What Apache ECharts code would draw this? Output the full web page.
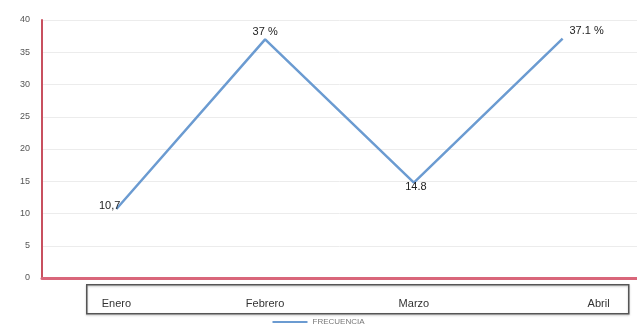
<!DOCTYPE html>
<html>
<head>
<meta charset="utf-8">
<script src="https://cdn.jsdelivr.net/npm/echarts@6/dist/echarts.min.js"></script>
<style>
  html, body { margin: 0; padding: 0; background: #ffffff; }
  #chart { width: 637px; height: 332px; }
</style>
</head>
<body>
<div id="chart"></div>
<script>
// Monthly frequency data
const months = ['Enero', 'Febrero', 'Marzo', 'Abril'];
const frecuencia = [10.7, 37, 14.8, 37.1];
const pointLabels = ['10,7', '37 %', '14.8', '37.1 %'];
const yTicks = [0, 5, 10, 15, 20, 25, 30, 35, 40];

const chart = echarts.init(document.getElementById('chart'), null, { renderer: 'canvas' });

const labelPlacement = [
  { position: 'left', distance: 0, offset: [4, -3] },
  { position: 'top', distance: 2, offset: [0, 0] },
  { position: 'inside', offset: [2, 4] },
  { position: 'top', distance: 2, offset: [24, 0] }
];

chart.setOption({
  animation: false,
  backgroundColor: '#ffffff',
  grid: { left: 42, right: 0, top: 20, bottom: 54 },
  legend: {
    bottom: 1,
    left: 'center',
    icon: 'rect',
    itemWidth: 35,
    itemHeight: 2,
    itemGap: 4,
    textStyle: { fontSize: 8, color: '#777', fontFamily: 'Liberation Sans' },
    data: ['FRECUENCIA']
  },
  graphic: [{
    type: 'rect',
    left: 86,
    top: 284,
    shape: { width: 542, height: 29 },
    style: { fill: 'rgba(0,0,0,0)', stroke: '#555', lineWidth: 1.5,
             shadowColor: 'rgba(0,0,0,0.25)', shadowBlur: 2, shadowOffsetY: 1 },
    z: 0
  }],
  xAxis: {
    type: 'category',
    data: months,
    boundaryGap: true,
    axisLine: { show: true, lineStyle: { color: '#d9667a', width: 3 } },
    axisTick: { show: false },
    axisLabel: {
      margin: 20,
      fontSize: 11,
      color: '#333',
      fontFamily: 'Liberation Sans',
      formatter: function (v, i) { return i === months.length - 1 ? '{r|' + v + '}' : v; },
      rich: { r: { padding: [0, 0, 0, 72], fontSize: 11, color: '#333', fontFamily: 'Liberation Sans' } }
    }
  },
  yAxis: {
    type: 'value',
    min: yTicks[0],
    max: yTicks[yTicks.length - 1],
    interval: 5,
    axisLine: { show: true, lineStyle: { color: '#c8505f', width: 2 } },
    axisTick: { show: false },
    axisLabel: { fontSize: 9, color: '#555', margin: 12, fontFamily: 'Liberation Sans' },
    splitLine: { lineStyle: { color: '#ececec', width: 1 } }
  },
  series: [{
    name: 'FRECUENCIA',
    type: 'line',
    data: frecuencia.map(function (v, i) {
      return {
        value: v,
        label: Object.assign({ show: true }, labelPlacement[i])
      };
    }),
    showSymbol: true,
    symbol: 'circle',
    symbolSize: 0,
    lineStyle: { color: '#6b9bd1', width: 2.5 },
    itemStyle: { color: '#6b9bd1' },
    label: {
      show: true,
      fontSize: 11,
      color: '#222',
      fontFamily: 'Liberation Sans',
      formatter: function (p) { return pointLabels[p.dataIndex]; }
    },
    z: 3
  }]
});
</script>
</body>
</html>
